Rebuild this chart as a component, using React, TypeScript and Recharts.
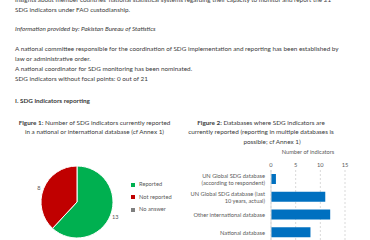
import React from 'react';
import { PieChart, Pie, Cell, Legend, BarChart, Bar, XAxis, YAxis, CartesianGrid, Label } from 'recharts';

const pieNames = ['Reported', 'Not reported', 'No answer'];
const pieValues = [13, 8, 0];
const pieColors = ['#00B050', '#C00000', '#7F7F7F'];

const dbCategories = [
  'UN Global SDG database\n(according to respondent)',
  'UN Global SDG database (last\n10 years, actual)',
  'Other international database',
  'National database',
];
const dbValues = [1, 11, 12, 8];
const xTicks = [0, 5, 10, 15];

const pieData = pieNames.map((name, i) => ({ name, value: pieValues[i] }));
const barData = dbCategories.map((name, i) => ({ name, value: dbValues[i] }));

const FONT = 'Lato, "Liberation Sans", sans-serif';
const TEXT = '#3a3a3a';
const GRAY = '#595959';
const FS = 6.35;

const Line = ({ y, x, children, style }: any) => (
  <div style={{ position: 'absolute', left: x, top: y - 5, height: 10, lineHeight: '10px', fontSize: FS, whiteSpace: 'nowrap', ...style }}>{children}</div>
);
const CLine = ({ y, cx, children, style }: any) => (
  <div style={{ position: 'absolute', left: cx - 100, width: 200, textAlign: 'center', top: y - 5, height: 10, lineHeight: '10px', fontSize: FS, whiteSpace: 'nowrap', ...style }}>{children}</div>
);

const RAD = Math.PI / 180;
const pieLabel = (p: any) => {
  if (!p.value) return null;
  const r = p.outerRadius + 5;
  const x = p.cx + r * Math.cos(-p.midAngle * RAD);
  const y = p.cy + r * Math.sin(-p.midAngle * RAD);
  return (
    <text x={x} y={y} fill={GRAY} fontSize={5.6} textAnchor="middle" dominantBaseline="central" fontFamily={FONT}>
      {p.value}
    </text>
  );
};

const CatTick = (props: any) => {
  const { x, y, payload } = props;
  const lines = String(payload.value).split('\n');
  const lh = 7;
  const start = y - ((lines.length - 1) * lh) / 2;
  return (
    <text x={x} y={start} textAnchor="end" fill={GRAY} fontSize={5.7} fontFamily={FONT}>
      {lines.map((l, i) => (
        <tspan key={i} x={x} y={start + i * lh} dominantBaseline="central">{l}</tspan>
      ))}
    </text>
  );
};

export default function App() {
  return (
    <div style={{ position: 'absolute', left: 0, top: 0, width: 370, height: 240, background: '#fff', fontFamily: FONT, color: TEXT, overflow: 'hidden' }}>
      <Line x={15} y={0}>insights about member countries' national statistical systems regarding their capacity to monitor and report the 21</Line>
      <Line x={15} y={10}>SDG indicators under FAO custodianship.</Line>
      <Line x={15} y={29} style={{ fontStyle: 'italic' }}>Information provided by: Pakistan Bureau of Statistics</Line>
      <Line x={15} y={49}>A national committee responsible for the coordination of SDG implementation and reporting has been established by</Line>
      <Line x={15} y={59}>law or administrative order.</Line>
      <Line x={15} y={69}>A national coordinator for SDG monitoring has been nominated.</Line>
      <Line x={15} y={79}>SDG indicators without focal points: 0 out of 21</Line>
      <Line x={15} y={101} style={{ fontWeight: 'bold' }}>I. SDG indicators reporting</Line>

      <CLine cx={94.5} y={123}><b>Figure 1:</b> Number of SDG indicators currently reported</CLine>
      <CLine cx={94.5} y={132}>in a national or international database (cf Annex 1)</CLine>
      <CLine cx={261} y={123}><b>Figure 2:</b> Databases where SDG indicators are</CLine>
      <CLine cx={261} y={132}>currently reported (reporting in multiple databases is</CLine>
      <CLine cx={272} y={142}>possible; cf Annex 1)</CLine>

      <div style={{ position: 'absolute', left: 0, top: 130 }}>
        <PieChart width={185} height={110}>
          <Pie
            data={pieData}
            dataKey="value"
            nameKey="name"
            cx={72}
            cy={67}
            outerRadius={36}
            startAngle={90}
            endAngle={-270}
            stroke="#fff"
            strokeWidth={1}
            labelLine={false}
            label={pieLabel}
            isAnimationActive={false}
          >
            {pieData.map((d, i) => (
              <Cell key={d.name} fill={pieColors[i]} />
            ))}
          </Pie>
          <Legend
            layout="vertical"
            align="right"
            verticalAlign="top"
            iconType="square"
            iconSize={4}
            itemSorter={(item: any) => pieNames.indexOf(item.value)}
            wrapperStyle={{ left: 131, top: 48, width: 60, fontSize: 5.7, lineHeight: '12.5px', fontFamily: FONT }}
            formatter={(v: any) => <span style={{ color: GRAY }}>{v}</span>}
          />
        </PieChart>
      </div>

      <div style={{ position: 'absolute', left: 185, top: 130 }}>
        <BarChart
          width={185}
          height={111}
          data={barData}
          layout="vertical"
          margin={{ top: 20, right: 25, bottom: 0, left: 0 }}
          barSize={10}
        >
          <CartesianGrid horizontal={false} stroke="#d9d9d9" strokeDasharray="2 2" />
          <XAxis
            type="number"
            orientation="top"
            domain={[0, 15]}
            ticks={xTicks}
            height={20}
            axisLine={false}
            tickLine={false}
            tickSize={2}
            tickMargin={1}
            tick={{ fontSize: 5.7, fill: GRAY, fontFamily: FONT }}
          >
            <Label value="Number of indicators" position="insideTop" offset={0} fontSize={5.7} fill={GRAY} fontFamily={FONT} />
          </XAxis>
          <YAxis
            type="category"
            dataKey="name"
            width={86}
            axisLine={{ stroke: '#d9d9d9' }}
            tickLine={false}
            tickSize={4}
            tickMargin={2}
            tick={<CatTick />}
            interval={0}
          />
          <Bar dataKey="value" fill="#0070C0" isAnimationActive={false} />
        </BarChart>
      </div>
    </div>
  );
}
